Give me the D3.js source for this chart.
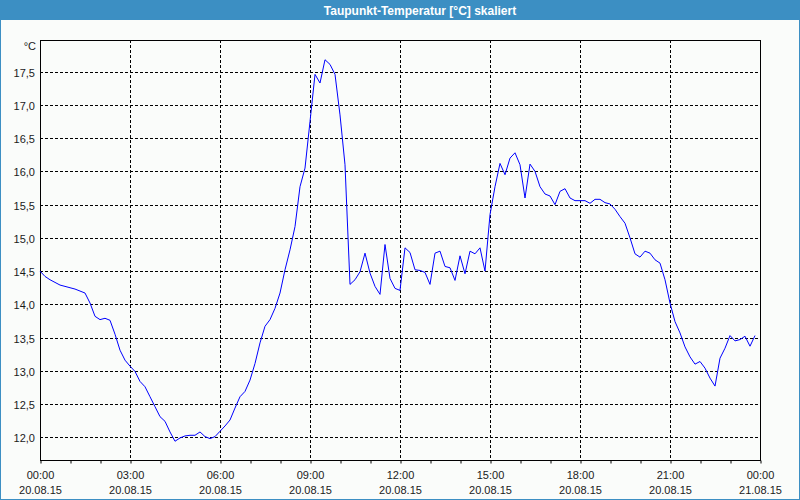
<!DOCTYPE html>
<html>
<head>
<meta charset="utf-8">
<script src="https://cdn.jsdelivr.net/npm/d3@7"></script>
<style>
  html, body { margin: 0; padding: 0; background: #fafcfa; }
  svg { display: block; }
</style>
</head>
<body>
<svg id="chart" width="800" height="500"></svg>
<script>
// ---- Data ----
const title = "Taupunkt-Temperatur [°C] skaliert";
const unitLabel = "°C";
const startTime = "2015-08-20T00:00:00";
const stepMinutes = 10;
const dewPoint = [
  14.50, 14.42, 14.37, 14.33, 14.29, 14.27, 14.25, 14.23, 14.20, 14.17,
  14.02, 13.82, 13.77, 13.79, 13.76, 13.55, 13.31, 13.16, 13.07, 12.99,
  12.84, 12.76, 12.61, 12.46, 12.31, 12.24, 12.08, 11.94, 11.99, 12.02,
  12.03, 12.03, 12.08, 12.01, 11.98, 12.01, 12.09, 12.17, 12.26, 12.44,
  12.61, 12.69, 12.86, 13.11, 13.42, 13.67, 13.77, 13.94, 14.17, 14.52,
  14.82, 15.17, 15.77, 16.05, 16.75, 17.46, 17.33, 17.68, 17.61, 17.46,
  16.85, 16.10, 14.30, 14.37, 14.49, 14.77, 14.47, 14.27, 14.15, 14.90,
  14.39, 14.24, 14.21, 14.85, 14.78, 14.52, 14.51, 14.48, 14.30, 14.77,
  14.80, 14.57, 14.55, 14.36, 14.73, 14.46, 14.80, 14.76, 14.85, 14.50,
  15.35, 15.77, 16.12, 15.95, 16.20, 16.28, 16.10, 15.60, 16.11, 16.00,
  15.77, 15.66, 15.63, 15.50, 15.70, 15.74, 15.60, 15.56, 15.56, 15.56,
  15.52, 15.58, 15.58, 15.53, 15.51, 15.43, 15.32, 15.22, 15.00, 14.76,
  14.71, 14.80, 14.77, 14.67, 14.62, 14.37, 14.02, 13.74, 13.57, 13.36,
  13.21, 13.10, 13.14, 13.04, 12.89, 12.77, 13.19, 13.34, 13.53, 13.45,
  13.47, 13.52, 13.37, 13.53
];
const yTicks = [12.0, 12.5, 13.0, 13.5, 14.0, 14.5, 15.0, 15.5, 16.0, 16.5, 17.0, 17.5];
const yDomain = [11.658, 17.977];
const xDomain = ["2015-08-20T00:00:00", "2015-08-21T00:00:00"];

// ---- Layout ----
const W = 800, H = 500;
const m = { left: 40, right: 40, top: 40, bottom: 40 };
const svg = d3.select("#chart");
const font = "'Liberation Sans', Arial, sans-serif";
const blue = "#3c8fc3";

const t0 = new Date(startTime);
const points = dewPoint.map((v, i) => ({ t: new Date(t0.getTime() + i * stepMinutes * 60000), v }));

const x = d3.scaleTime().domain(xDomain.map(s => new Date(s))).range([m.left, W - m.right]);
const y = d3.scaleLinear().domain(yDomain).range([H - m.bottom, m.top]);

// background
svg.append("rect").attr("x", 0).attr("y", 0).attr("width", W).attr("height", H).attr("fill", "#fafcfa");

// title bar
svg.append("rect").attr("x", 0).attr("y", 0).attr("width", W).attr("height", 20).attr("fill", blue);
svg.append("text").attr("x", 420).attr("y", 14.5).attr("text-anchor", "middle")
  .attr("fill", "#ffffff").attr("font-family", font).attr("font-weight", "bold").attr("font-size", 12)
  .text(title);

// window border
svg.append("rect").attr("x", 0.5).attr("y", 0.5).attr("width", W - 1).attr("height", H - 1)
  .attr("fill", "none").attr("stroke", blue).attr("stroke-width", 1);

const snap = v => Math.round(v) + 0.5;

// horizontal grid
svg.append("g").selectAll("line").data(yTicks).join("line")
  .attr("x1", m.left).attr("x2", W - m.right)
  .attr("y1", d => snap(y(d))).attr("y2", d => snap(y(d)))
  .attr("stroke", "#000").attr("stroke-width", 1).attr("stroke-dasharray", "3,2");

// vertical grid every 3 hours
const vTicks = x.ticks(d3.timeHour.every(3)).filter(d => +d !== +x.domain()[0] && +d !== +x.domain()[1]);
svg.append("g").selectAll("line").data(vTicks).join("line")
  .attr("y1", m.top).attr("y2", H - m.bottom)
  .attr("x1", d => snap(x(d))).attr("x2", d => snap(x(d)))
  .attr("stroke", "#000").attr("stroke-width", 1).attr("stroke-dasharray", "3,2");

// plot frame
svg.append("rect").attr("x", m.left + 0.5).attr("y", m.top + 0.5)
  .attr("width", W - m.left - m.right).attr("height", H - m.top - m.bottom)
  .attr("fill", "none").attr("stroke", "#000").attr("stroke-width", 1);

// x axis (hour ticks, labels every 3h)
const xAxis = d3.axisBottom(x)
  .ticks(d3.timeHour.every(1))
  .tickSize(3)
  .tickFormat("");
const gx = svg.append("g").attr("transform", `translate(0.5,${H - m.bottom + 0.5})`).call(xAxis);
gx.select(".domain").remove();
gx.selectAll(".tick line").attr("stroke", "#000");

const labelTicks = x.ticks(d3.timeHour.every(3));
const fmtTime = d3.timeFormat("%H:%M");
const fmtDate = d3.timeFormat("%d.%m.%y");
const lg = svg.append("g").attr("font-family", font).attr("font-size", 11).attr("fill", "#1a1a1a");
lg.selectAll("text.tm").data(labelTicks).join("text").attr("class", "tm")
  .attr("x", d => x(d) + 0.5).attr("y", 479).attr("text-anchor", "middle").text(d => fmtTime(d));
lg.selectAll("text.dt").data(labelTicks).join("text").attr("class", "dt")
  .attr("x", d => x(d) + 0.5).attr("y", 494).attr("text-anchor", "middle").text(d => fmtDate(d));

// y axis labels
const yAxis = d3.axisLeft(y).tickValues(yTicks).tickSize(0).tickPadding(5)
  .tickFormat(d => d3.format(".1f")(d).replace(".", ","));
const gy = svg.append("g").attr("transform", `translate(${m.left},1)`).call(yAxis);
gy.select(".domain").remove();
gy.selectAll("text").attr("font-family", font).attr("font-size", 11).attr("fill", "#1a1a1a");

svg.append("text").attr("x", 36).attr("y", 50).attr("text-anchor", "end")
  .attr("font-family", font).attr("font-size", 11).attr("fill", "#1a1a1a").text(unitLabel);

// line
const line = d3.line().x(d => x(d.t)).y(d => y(d.v));
svg.append("path").datum(points).attr("d", line)
  .attr("fill", "none").attr("stroke", "#0000ff").attr("stroke-width", 1);
</script>
</body>
</html>
